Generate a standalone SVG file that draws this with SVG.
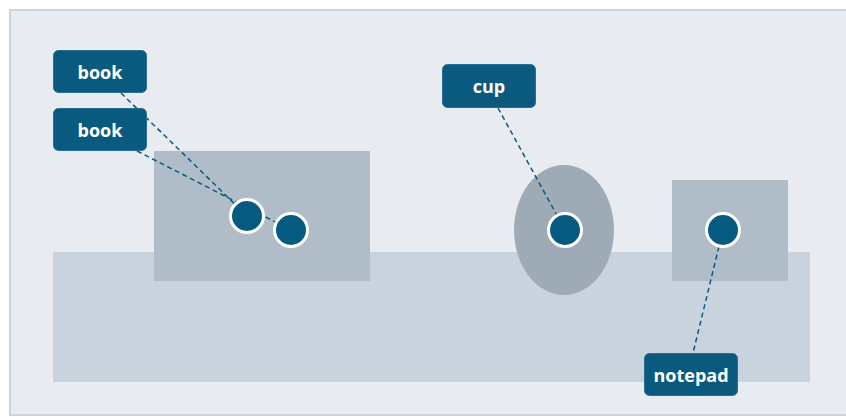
<svg xmlns="http://www.w3.org/2000/svg" width="846" height="417" viewBox="0 0 846 417">
<style>
.lbl rect{fill:#0a5a80;stroke:#2a6f92;stroke-width:1}
.lbl text{fill:#ffffff;font-family:"Open Sans","DejaVu Sans",sans-serif;font-weight:bold;font-size:18px;text-anchor:middle}
.pt{fill:#065a80;stroke:#ffffff;stroke-width:3}
.conn line{stroke:#0a5a80;stroke-width:1.5;stroke-dasharray:5 3.5}
</style>
<rect x="0" y="0" width="846" height="417" fill="#ffffff"/>
<rect x="10" y="10" width="840" height="405" fill="#e8ecf1" stroke="#c9d4df" stroke-width="2"/>
<g id="table"><rect x="53" y="252" width="757" height="130" fill="#c8d3dd"/></g>
<g id="book-area"><rect x="154" y="151" width="216" height="130" fill="#b0bcc8"/></g>
<g id="cup-area"><ellipse cx="564" cy="230" rx="50" ry="65" fill="#9eaab5"/></g>
<g id="notepad-area"><rect x="672" y="180" width="116" height="101" fill="#b0bcc8"/></g>
<g id="connectors" class="conn">
<line x1="121" y1="93" x2="247" y2="216"/>
<line x1="137" y1="151" x2="291" y2="230"/>
<line x1="498" y1="108" x2="565" y2="230"/>
<line x1="723" y1="230" x2="693" y2="353"/>
</g>
<g id="point-book1"><circle class="pt" cx="247" cy="216" r="16.5"/></g>
<g id="point-book2"><circle class="pt" cx="291" cy="230" r="16.5"/></g>
<g id="point-cup"><circle class="pt" cx="565" cy="230" r="16.5"/></g>
<g id="point-notepad"><circle class="pt" cx="723" cy="230" r="16.5"/></g>
<g id="label-book1" class="lbl"><rect x="53.5" y="50.5" width="93" height="42" rx="5"/><text x="100" y="79">book</text></g>
<g id="label-book2" class="lbl"><rect x="53.5" y="108.5" width="93" height="42" rx="5"/><text x="100" y="137">book</text></g>
<g id="label-cup" class="lbl"><rect x="442.5" y="64.5" width="93" height="43" rx="5"/><text x="489" y="93">cup</text></g>
<g id="label-notepad" class="lbl"><rect x="644.5" y="353.5" width="93" height="42" rx="5"/><text x="691" y="382">notepad</text></g>
</svg>
